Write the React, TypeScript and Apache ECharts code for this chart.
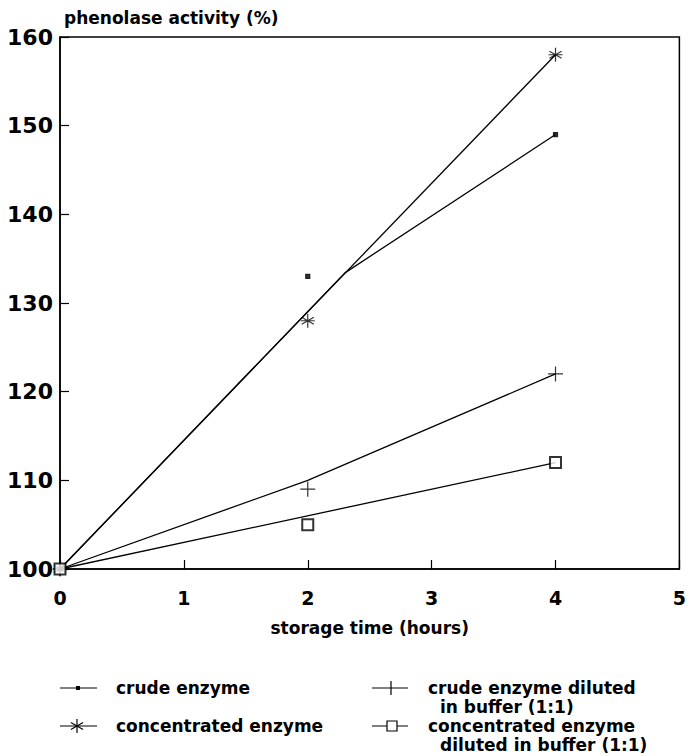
import React, { useEffect, useRef } from "react";
import * as echarts from "echarts";

// ---- data ----
const times = [0, 2, 4];
const crudeValues = [100, 133, 149];
const concValues = [100, 128, 158];
const crudeDilValues = [100, 109, 122];
const concDilValues = [100, 105, 112];

// drawn (fitted) lines
const crudeFitX = [0, 2.3, 4];
const crudeFitY = [100, 133.4, 149];
const concFitX = [0, 4];
const concFitY = [100, 158];
const crudeDilFitX = [0, 2, 4];
const crudeDilFitY = [100, 110, 122];
const concDilFitX = [0, 4];
const concDilFitY = [100, 112];

const seriesNames = [
  "crude enzyme",
  "concentrated enzyme",
  "crude enzyme diluted in buffer (1:1)",
  "concentrated enzyme diluted in buffer (1:1)",
];
const legendLines = [
  ["crude enzyme"],
  ["concentrated enzyme"],
  ["crude enzyme diluted", "in buffer (1:1)"],
  ["concentrated enzyme", "diluted in buffer (1:1)"],
];

const xName = "storage time (hours)";
const yName = "phenolase activity (%)";

const FONT = "DejaVu Sans";
const STAR = "path://M10,0L10,20M1.34,5L18.66,15M1.34,15L18.66,5M0,10L20,10";
const PLUS = "path://M10,0L10,20M0,10L20,10";

const pairs = (xs: number[], ys: number[]) => xs.map((x, i) => [x, ys[i]]);

function buildOption() {
  const lineStyle = { color: "#000", width: 1.3 };
  const fit = (name: string, xs: number[], ys: number[]) => ({
    type: "line",
    name: name + " (line)",
    data: pairs(xs, ys),
    symbol: "none",
    lineStyle,
    silent: true,
    z: 2,
  });
  const marks = (name: string, ys: number[], symbol: string, size: number, extra: any = {}) => ({
    type: "scatter",
    name,
    data: pairs(times, ys),
    symbol,
    symbolSize: size,
    clip: false,
    itemStyle: { color: "#000", borderColor: "#000", borderWidth: 1.2, ...extra },
    z: 3,
  });

  const txt = (text: string, x: number, y: number) => ({
    type: "text",
    x,
    y,
    style: { text, fontSize: 17, fontWeight: "bold", fontFamily: FONT, fill: "#000", verticalAlign: "middle" },
  });
  const hline = (x1: number, x2: number, y: number) => ({
    type: "line",
    shape: { x1, y1: y, x2, y2: y },
    style: { stroke: "#000", lineWidth: 1.2 },
  });
  const seg = (x1: number, y1: number, x2: number, y2: number) => ({
    type: "line",
    shape: { x1, y1, x2, y2 },
    style: { stroke: "#000", lineWidth: 1.2 },
  });

  const r1 = 688, r1b = 707, r2 = 726, r2b = 745;
  const star = (cx: number, cy: number, r: number) => [
    seg(cx, cy - r, cx, cy + r),
    seg(cx - r * 0.87, cy - r * 0.5, cx + r * 0.87, cy + r * 0.5),
    seg(cx - r * 0.87, cy + r * 0.5, cx + r * 0.87, cy - r * 0.5),
  ];

  const graphic = [
    hline(60, 97, r1),
    { type: "rect", shape: { x: 76, y: r1 - 2, width: 4, height: 4 }, style: { fill: "#000" } },
    txt(legendLines[0][0], 116, r1),
    hline(60, 97, r2),
    ...star(77, r2, 7),
    txt(legendLines[1][0], 116, r2),
    hline(372, 408, r1),
    seg(391, r1 - 7, 391, r1 + 7),
    txt(legendLines[2][0], 428, r1),
    txt(legendLines[2][1], 440, r1b),
    hline(372, 408, r2),
    { type: "rect", shape: { x: 387, y: r2 - 5, width: 10, height: 10 }, style: { fill: "#fff", stroke: "#000", lineWidth: 1.2 } },
    txt(legendLines[3][0], 428, r2),
    txt(legendLines[3][1], 440, r2b),
  ];

  return {
    animation: false,
    backgroundColor: "#fff",
    grid: {
      left: 60,
      right: 4,
      top: 37,
      bottom: 187,
      show: true,
      borderColor: "#000",
      borderWidth: 1.5,
      backgroundColor: "transparent",
    },
    xAxis: {
      type: "value",
      min: 0,
      max: 5,
      interval: 1,
      name: xName,
      nameLocation: "middle",
      nameGap: 50,
      nameTextStyle: { fontSize: 17, fontWeight: "bold", fontFamily: FONT, color: "#000" },
      axisLine: { show: true, lineStyle: { color: "#000", width: 1.5 } },
      axisTick: { show: true, inside: true, length: 9, lineStyle: { color: "#000", width: 1.2 } },
      axisLabel: { fontSize: 19, fontWeight: "bold", fontFamily: FONT, color: "#000", margin: 19 },
      splitLine: { show: false },
    },
    yAxis: {
      type: "value",
      min: 100,
      max: 160,
      interval: 10,
      name: yName,
      nameLocation: "end",
      nameGap: 19,
      nameTextStyle: {
        fontSize: 17,
        fontWeight: "bold",
        fontFamily: FONT,
        color: "#000",
        align: "left",
        verticalAlign: "middle",
        padding: [0, 0, 0, 4],
      },
      axisLine: { show: true, lineStyle: { color: "#000", width: 1.5 } },
      axisTick: { show: true, inside: true, length: 9, lineStyle: { color: "#000", width: 1.2 } },
      axisLabel: { fontSize: 22, fontWeight: "bold", fontFamily: FONT, color: "#000", margin: 7 },
      splitLine: { show: false },
    },
    graphic,
    series: [
      fit(seriesNames[1], concFitX, concFitY),
      fit(seriesNames[0], crudeFitX, crudeFitY),
      fit(seriesNames[2], crudeDilFitX, crudeDilFitY),
      fit(seriesNames[3], concDilFitX, concDilFitY),
      marks(seriesNames[0], crudeValues, "rect", 4),
      marks(seriesNames[1], concValues, STAR, 14, { color: "transparent" }),
      marks(seriesNames[2], crudeDilValues, PLUS, 15, { color: "transparent" }),
      marks(seriesNames[3], concDilValues, "emptyRect", 11),
    ],
  };
}

export default function App() {
  const ref = useRef<HTMLDivElement>(null);
  useEffect(() => {
    document.body.style.margin = "0";
    const chart = echarts.init(ref.current!, null, { renderer: "svg" });
    chart.setOption(buildOption() as any);
    return () => chart.dispose();
  }, []);
  return <div ref={ref} style={{ width: 689, height: 756 }} />;
}
